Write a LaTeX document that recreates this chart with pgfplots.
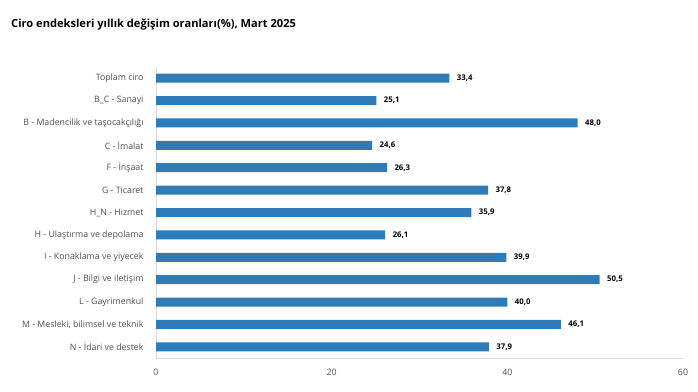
\documentclass[border=0pt]{standalone}
\usepackage{pgfplots}
\pgfplotsset{compat=1.18}
\usepackage{fontspec}
\setmainfont{Open Sans}
\definecolor{barblue}{HTML}{2E7BBA}
\definecolor{labgray}{HTML}{505050}
\definecolor{axgray}{HTML}{D9D9D9}
\begin{document}
\begin{tikzpicture}
\useasboundingbox (0pt,0pt) rectangle (698pt,391pt);
\node[anchor=west,font=\fontsize{11.1}{12}\selectfont\bfseries,text=black,inner sep=0] at (11pt,366pt) {Ciro endeksleri yıllık değişim oranları(\%), Mart 2025};
\begin{axis}[
  at={(156pt,33pt)}, anchor=south west,
  scale only axis, width=527pt, height=291pt,
  xbar, bar width=9pt,
  xmin=0, xmax=60, ymin=-0.5, ymax=12.5,
  y dir=reverse,
  xtick={0,20,40,60},
  ytick={0,...,12},
  yticklabels={Toplam ciro, B\_C - Sanayi, B - Madencilik ve taşocakçılığı, C - İmalat, F - İnşaat, G - Ticaret, H\_N - Hizmet, H - Ulaştırma ve depolama, I - Konaklama ve yiyecek, J - Bilgi ve iletişim, L - Gayrimenkul, {M - Mesleki, bilimsel ve teknik}, N - İdari ve destek},
  axis line style={draw=axgray},
  axis x line*=bottom, axis y line*=left,
  x axis line style={-}, y axis line style={-},
  major tick length=0pt,
  tick style={draw=none},
  ticklabel style={font=\fontsize{8.8}{10}\selectfont, text=labgray},
  xticklabel style={yshift=-8pt},
  yticklabel style={xshift=-9pt},
  /pgf/number format/assume math mode=true,
  nodes near coords,
  nodes near coords style={font=\fontsize{7.8}{9}\selectfont\bfseries, text=black, xshift=4pt, /pgf/number format/.cd, fixed, fixed zerofill, precision=1, use comma},
  clip=false,
]
\addplot[fill=barblue, draw=none] coordinates {
(33.4,0) (25.1,1) (48.0,2) (24.6,3) (26.3,4) (37.8,5) (35.9,6) (26.1,7) (39.9,8) (50.5,9) (40.0,10) (46.1,11) (37.9,12)
};
\end{axis}
\end{tikzpicture}
\end{document}
